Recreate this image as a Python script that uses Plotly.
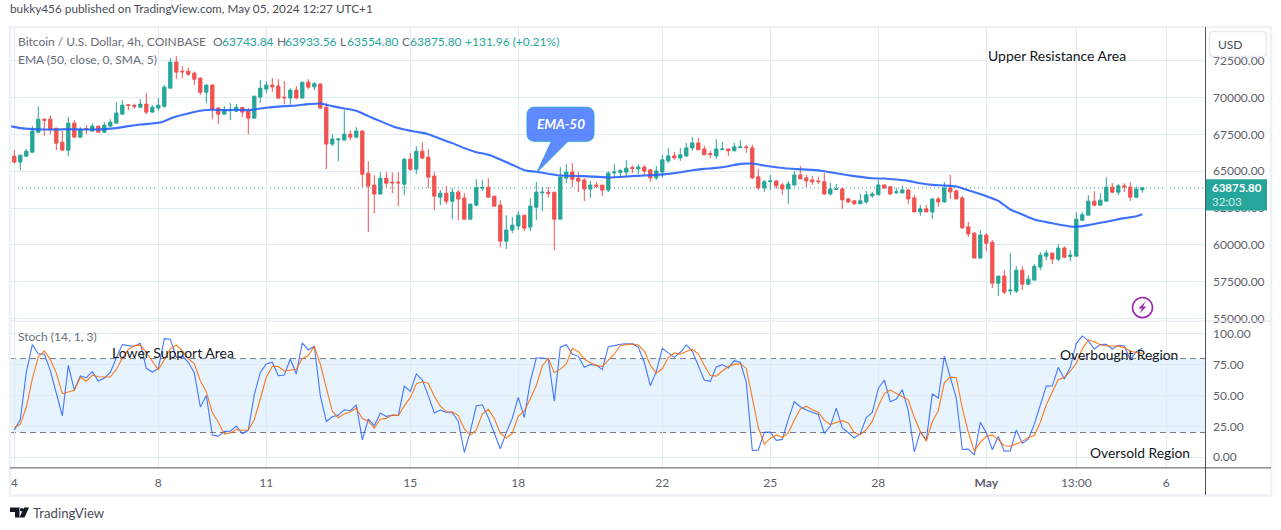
import plotly.graph_objects as go

candle_index = list(range(189))
opens = [66020,65620,66020,66290,67650,68530,68530,67920,66970,66430,
68260,67310,67900,67720,68060,67650,68060,68260,68870,69500,
69460,69340,69550,69010,69280,69410,70630,72400,71780,71780,
71650,71310,70360,70840,69280,68870,69100,69070,69320,69070,
68600,70020,70570,70840,70770,70020,69960,70500,69960,71040,
70720,70900,69340,66840,67130,67110,67510,67310,67720,64870,
64060,63450,64530,64260,64260,64120,65820,65140,66360,65950,
64670,63240,63510,62970,63580,63180,61750,62700,63850,63920,
63310,62700,60260,61010,61280,62020,61210,62560,63540,63580,
63580,61750,64530,64940,64530,64400,63790,64060,64060,63720,
64890,64920,64940,65250,65160,65280,65090,64550,64950,65700,
66040,65900,66040,66580,66920,66510,66200,66040,66470,66510,
66380,66600,66650,66580,64620,63870,64300,64340,64070,63800,
64070,64750,64550,64410,64340,64280,63460,63760,63800,63120,
62990,62790,62920,63330,63400,64070,63940,63550,63530,63730,
63190,62240,62450,62240,63120,62920,63870,63670,63190,61230,
60800,59110,60670,60190,57410,57890,56890,56870,58290,57340,
57620,58500,59240,59450,59040,59790,59220,59240,61680,62020,
62970,62700,62970,63920,63580,64010,63920,63240,63743.84]
highs = [66430,66090,66500,68060,69410,68580,68800,67920,67720,68670,
68460,67990,68120,68240,68060,68330,68530,69680,69820,69550,
69590,69890,70290,69480,69960,70840,72670,72800,72120,71990,
71760,71380,70900,70900,69340,69410,69620,69550,69370,69280,
70090,71180,71110,71310,71240,71110,70630,70770,71040,71240,
71040,70970,69620,67510,67220,69140,67790,67990,67790,65680,
64730,64940,64940,64920,64940,65890,66230,66700,66970,66500,
64940,63720,63990,63850,63720,63510,62770,64460,64400,64530,
63310,63040,62020,61890,62290,62020,63180,64260,63920,63920,
63580,65280,65480,65550,64940,64530,64330,64260,64060,65010,
65480,65120,65750,65390,65480,65410,65160,65360,66110,66580,
66310,66580,66920,67330,67260,66720,66380,67190,66990,66510,
66920,67120,66790,66790,65160,64410,64750,64410,64210,64340,
65020,65360,64750,64680,64620,64890,64210,64140,63870,63190,
63060,63460,63670,63600,64410,64070,64010,63870,64010,63800,
63400,62720,62720,63190,63260,64280,64750,63730,63330,61560,
60870,61010,60800,60330,57890,58290,59450,58560,58560,57950,
58700,59510,59650,59450,60060,59920,59650,62230,62230,63380,
63650,63510,64600,64190,64120,64190,64260,63990,63933.56]
lows = [65530,65070,66020,66290,67560,67400,67510,66430,66430,66020,
67310,67310,67510,67720,67650,67580,67990,68260,68870,69140,
69230,69280,68870,68960,69100,69280,70630,71240,71310,71450,
70840,70160,69620,68530,68190,68870,68460,69010,68670,67510,
68600,69620,70290,70360,69890,69550,69550,69890,69960,70570,
70500,69210,65140,66700,65680,67110,67110,67240,63920,60870,
62160,63450,63920,63510,62630,63380,65010,64800,65820,63850,
62360,62700,62770,61750,61680,61750,61750,62630,63650,63240,
62630,59850,59720,60800,61010,60940,60940,61680,62290,63240,
59650,61750,64190,63920,63580,62970,63180,63850,63310,63580,
64600,64600,64670,64870,64800,64710,64280,64410,64550,65570,
65770,65700,65970,66380,66450,66110,65900,65840,66450,66040,
66380,66580,66240,64480,63730,63600,63730,63800,63400,62790,
64010,64480,63940,64070,64140,63400,63330,63730,62450,62850,
62720,62790,62790,63190,63400,63800,63400,63460,63530,62790,
62240,61970,62240,61770,62580,62850,63120,63120,61090,60550,
59110,59110,59580,57070,56530,56670,56600,56730,56940,57280,
57620,58290,58970,58700,58900,59110,58900,59240,61620,62020,
62630,62700,62970,63510,63380,63580,62970,63180,63554.80]
closes = [65620,66090,66360,67720,68530,68460,67850,66900,66430,68260,
67310,67850,67850,68060,67650,68120,68330,68940,69480,69460,
69410,69550,69010,69340,69480,70700,72400,71720,71740,71580,
71240,70360,70840,69210,68870,69140,69140,69340,69010,68600,
70090,70630,70840,70720,69960,69980,70500,69960,71040,70700,
70930,69280,66840,67180,67180,67510,67310,67720,64800,63990,
63450,64530,64190,64210,64210,65820,65140,66360,65890,64600,
63310,63510,62970,63580,63110,61750,62770,63880,63900,63240,
62630,60260,61010,61340,62020,61140,62630,63580,63580,63510,
61750,64600,64940,64460,64330,63790,64060,63990,63720,64870,
64940,65030,65210,65190,65280,65010,64550,65020,65770,66040,
65900,66110,66580,66920,66450,66110,66150,66510,66510,66380,
66650,66650,66600,64550,63870,64280,64340,64010,63800,64140,
64750,64480,64340,64280,64300,63460,63800,63800,63060,62920,
62790,62990,63400,63460,64070,63870,63460,63600,63730,63120,
62240,62450,62240,63120,62920,63870,63600,63120,61160,60750,
59110,60670,60120,57410,57890,56800,56940,58290,57340,57680,
58560,59310,59450,59040,59790,59170,59310,61750,62050,62970,
62700,63040,63920,63580,64010,63940,63240,63790,63875.80]

ema_index = [-0.7,1,3,5,7,9,11,13,15,17,19,21,23,24,25,26,27,29,31,33,35,37,39,41,43,45,47,49,51,52,
53,55,57,59,61,63,65,67,69,71,73,75,77,79,81,83,85,87,89,91,95,99,103,105,
107,109,111,113,115,117,119,121,123,125,127,129,131,133,135,137,139,141,143,145,147,149,151,153,155,157,158,159,
162,164,166,168,170,172,174,176,177,179,181,183,185,187,188]
ema_values = [68056,67921,67853,67830,67830,67853,67830,67830,67853,67921,68056,68169,68237,68282,68395,68576,68712,68915,69096,69164,69141,69164,69141,69254,69344,69412,69457,69548,69593,69503,
69412,69254,69096,68734,68395,68056,67830,67672,67514,67197,66904,66565,66293,66113,65796,65435,65073,64960,64824,64711,64666,64576,64666,64711,
64751,64819,64932,65067,65158,65226,65339,65497,65519,65384,65271,65180,65135,65090,65000,64864,64728,64615,64525,64502,64435,64344,64186,64073,64028,63960,63847,63711,
63310,62994,62406,62067,61728,61547,61389,61254,61231,61344,61502,61660,61819,61954,62090]

stoch_k = [22.0,30.6,68.8,91.3,83.7,83.7,70.2,50.7,33.6,74.5,
54.5,65.9,64.5,69.4,61.8,64.2,68.8,80.5,91.3,90.5,
90.0,92.4,72.1,69.1,71.8,96.2,95.7,81.0,82.1,77.0,
68.3,40.7,49.9,17.9,17.1,20.9,21.1,25.2,19.0,22.0,
50.7,68.8,75.6,77.0,66.1,66.7,79.7,67.5,92.7,87.0,
90.0,49.9,29.0,32.8,34.1,38.5,37.7,42.5,14.1,30.9,
25.5,35.8,33.1,33.9,33.9,57.5,53.4,67.5,62.6,49.9,
35.8,38.2,36.3,36.0,29.0,3.8,20.9,41.7,42.5,32.2,
19.5,6.8,20.1,31.7,48.5,32.2,61.5,80.5,80.5,79.7,
45.5,89.2,91.3,83.7,81.8,72.9,75.1,74.8,71.0,89.7,
90.5,91.6,91.9,91.9,89.2,77.0,58.0,69.4,88.3,84.6,
81.0,85.1,91.1,85.9,74.8,62.6,61.5,73.2,75.1,72.4,
78.3,77.0,60.7,5.4,5.7,20.1,20.3,13.6,14.4,30.9,
45.0,40.9,38.2,36.3,34.7,19.2,25.2,39.8,23.8,19.8,
15.7,19.0,32.2,36.3,55.8,62.6,45.0,47.2,54.7,37.7,
4.3,20.6,13.8,51.2,48.0,81.8,64.8,48.0,6.2,6.5,
1.9,28.2,20.1,6.0,16.8,4.9,5.1,22.0,11.4,14.6,
26.8,43.1,57.7,57.7,72.9,63.4,72.9,92.4,98.4,94.6,
87.8,91.3,91.6,87.8,90.8,90.2,78.9,85.6,88.3]
stoch_d = [24.0,26.8,40.5,63.6,81.3,86.2,79.2,68.2,51.5,52.9,
54.2,64.9,61.6,66.6,65.2,65.1,65.0,71.2,80.2,87.4,
90.6,90.9,84.9,77.8,71.0,79.0,87.9,91.0,86.3,80.0,
75.8,62.0,53.0,36.2,28.3,18.6,19.7,22.4,21.8,22.1,
30.6,47.2,65.0,73.8,73.6,69.9,70.9,71.3,80.0,82.4,
89.9,75.6,56.3,37.2,32.0,35.1,36.8,39.6,31.4,29.2,
23.5,30.8,31.5,34.3,33.6,41.8,48.3,59.5,61.2,60.0,
49.4,41.3,36.8,36.8,33.8,22.9,17.9,22.1,35.0,38.8,
31.4,19.5,15.5,19.5,33.4,37.5,47.4,58.1,74.2,80.2,
68.6,71.4,75.7,88.1,85.6,79.5,76.6,74.3,73.6,78.5,
83.7,90.6,91.3,91.8,91.0,86.0,74.7,68.1,71.9,80.8,
84.6,83.6,85.7,87.4,83.9,74.4,66.3,65.8,69.9,73.6,
75.3,75.9,72.0,47.7,24.0,10.4,15.4,18.0,16.1,19.6,
30.1,39.0,41.4,38.5,36.4,30.1,26.4,28.1,29.6,27.8,
19.8,18.2,22.3,29.2,41.4,51.6,54.6,51.6,48.9,46.5,
32.2,20.9,12.9,28.7,37.6,60.3,64.9,64.5,39.7,20.2,
4.9,12.2,16.7,18.1,14.3,9.2,8.8,10.7,12.8,16.0,
17.6,28.2,42.5,52.8,63.0,64.7,69.7,76.2,87.9,95.2,
93.6,91.2,90.2,90.2,90.1,88.9,86.0,84.9,84.2]

for series in (opens, highs, lows, closes, stoch_k, stoch_d):
    assert len(series) == 189, len(series)
assert len(ema_index) == len(ema_values)

tick_positions = [0, 24, 42, 66, 84, 108, 126, 144, 162, 177, 192]
tick_labels = ["4", "8", "11", "15", "18", "22", "25", "28", "<b>May</b>", "13:00", "6"]
price_ticks = [55000, 57500, 60000, 62500, 65000, 67500, 70000, 72500]
stoch_ticks = [0, 25, 50, 75, 100]
last_price = 63875.80

W, H = 1281, 530
FIG_H = 536
UP, DOWN = "#26a69a", "#ef5350"
GRID = "#e1ecf2"
AXIS = "#50535e"
LABEL = "#5d606b"
FONT = "Lato"

def fx(px): return px / W
def fy(py): return 1 - py / H
def path(points, close=True):
    s = "M " + " L ".join(f"{fx(x):.5f},{fy(y):.5f}" for x, y in points)
    return s + (" Z" if close else "")

fig = go.Figure()
fig.add_trace(go.Candlestick(x=candle_index, open=opens, high=highs, low=lows, close=closes,
    increasing=dict(line=dict(color=UP, width=1), fillcolor=UP),
    decreasing=dict(line=dict(color=DOWN, width=1), fillcolor=DOWN),
    whiskerwidth=0, yaxis="y", xaxis="x", showlegend=False, hoverinfo="skip"))
fig.add_trace(go.Scatter(x=ema_index, y=ema_values, mode="lines", yaxis="y", xaxis="x",
    line=dict(color="#2962ff", width=2.1, shape="spline", smoothing=0.6), showlegend=False, hoverinfo="skip", opacity=0.9))
fig.add_trace(go.Scatter(x=candle_index, y=stoch_k, mode="lines", yaxis="y2", xaxis="x",
    line=dict(color="#2962ff", width=1.1), showlegend=False, hoverinfo="skip", opacity=0.85))
fig.add_trace(go.Scatter(x=candle_index, y=stoch_d, mode="lines", yaxis="y2", xaxis="x",
    line=dict(color="#ff6d00", width=1.1), showlegend=False, hoverinfo="skip", opacity=0.9))

shapes = []
shapes.append(dict(type="rect", xref="x domain", yref="y2", x0=0, x1=1, y0=20, y1=80,
                   fillcolor="rgba(33,150,243,0.11)", line_width=0, layer="below"))
for lvl, col in ((80, "#787b86"), (50, "#9a9da6"), (20, "#787b86")):
    shapes.append(dict(type="line", xref="x domain", yref="y2", x0=0, x1=1, y0=lvl, y1=lvl,
                       line=dict(color=col, width=1, dash="6px,4px"), layer="below"))
shapes.append(dict(type="line", xref="x domain", yref="y", x0=0, x1=1, y0=last_price, y1=last_price,
                   line=dict(color=UP, width=1, dash="1px,3px"), layer="below"))
shapes.append(dict(type="rect", xref="paper", yref="paper", x0=fx(10), x1=fx(1271), y0=fy(494.5), y1=fy(27),
                   line=dict(color="#eff1f7", width=2.5)))
shapes.append(dict(type="line", xref="paper", yref="paper", x0=fx(10), x1=fx(1271), y0=fy(320.5), y1=fy(320.5),
                   line=dict(color="#e0e3eb", width=1)))
shapes.append(dict(type="line", xref="paper", yref="paper", x0=fx(1205.5), x1=fx(1205.5), y0=fy(494), y1=fy(27),
                   line=dict(color=AXIS, width=1)))
shapes.append(dict(type="line", xref="paper", yref="paper", x0=fx(10), x1=fx(1271), y0=fy(467), y1=fy(467),
                   line=dict(color=AXIS, width=1)))
def rrect(x0, y0, x1, y1, r):
    return (f"M {fx(x0+r):.5f},{fy(y0):.5f} L {fx(x1-r):.5f},{fy(y0):.5f} "
            f"Q {fx(x1):.5f},{fy(y0):.5f} {fx(x1):.5f},{fy(y0+r):.5f} L {fx(x1):.5f},{fy(y1-r):.5f} "
            f"Q {fx(x1):.5f},{fy(y1):.5f} {fx(x1-r):.5f},{fy(y1):.5f} L {fx(x0+r):.5f},{fy(y1):.5f} "
            f"Q {fx(x0):.5f},{fy(y1):.5f} {fx(x0):.5f},{fy(y1-r):.5f} L {fx(x0):.5f},{fy(y0+r):.5f} "
            f"Q {fx(x0):.5f},{fy(y0):.5f} {fx(x0+r):.5f},{fy(y0):.5f} Z")
shapes.append(dict(type="path", xref="paper", yref="paper", path=rrect(1209.5, 31.5, 1266.5, 56.5, 4),
                   fillcolor="white", line=dict(color="#e8eaf1", width=1.5)))
shapes.append(dict(type="rect", xref="paper", yref="paper", x0=fx(1206), x1=fx(1267), y0=fy(210), y1=fy(179),
                   fillcolor=UP, line_width=0))
bx0, by0, bx1, by1, r = 527, 107, 594, 141, 8
callout = (f"M {fx(bx0+r):.5f},{fy(by0):.5f} L {fx(bx1-r):.5f},{fy(by0):.5f} "
           f"Q {fx(bx1):.5f},{fy(by0):.5f} {fx(bx1):.5f},{fy(by0+r):.5f} L {fx(bx1):.5f},{fy(by1-r):.5f} "
           f"Q {fx(bx1):.5f},{fy(by1):.5f} {fx(bx1-r):.5f},{fy(by1):.5f} L {fx(568):.5f},{fy(by1):.5f} "
           f"L {fx(537):.5f},{fy(172):.5f} L {fx(551.5):.5f},{fy(by1):.5f} "
           f"L {fx(bx0+r):.5f},{fy(by1):.5f} Q {fx(bx0):.5f},{fy(by1):.5f} {fx(bx0):.5f},{fy(by1-r):.5f} "
           f"L {fx(bx0):.5f},{fy(by0+r):.5f} Q {fx(bx0):.5f},{fy(by0):.5f} {fx(bx0+r):.5f},{fy(by0):.5f} Z")
shapes.append(dict(type="path", xref="paper", yref="paper", path=callout,
                   fillcolor="rgba(41,98,255,0.75)", line=dict(color="#2f9fd6", width=1)))
shapes.append(dict(type="circle", xref="paper", yref="paper", x0=fx(1132.5), x1=fx(1152.5), y0=fy(317), y1=fy(297),
                   fillcolor="white", line=dict(color="#9c27b0", width=1.6)))
shapes.append(dict(type="path", xref="paper", yref="paper",
                   path=path([(1145.5, 301), (1138.5, 308), (1142, 308), (1139.5, 313), (1146.5, 306), (1143, 306)]),
                   fillcolor="#9c27b0", line_width=0))
shapes.append(dict(type="path", xref="paper", yref="paper",
                   path=path([(10, 506.5), (19.5, 506.5), (19.5, 516.5), (15, 516.5), (15, 511), (10, 511)]),
                   fillcolor="#131722", line_width=0))
shapes.append(dict(type="circle", xref="paper", yref="paper", x0=fx(20), x1=fx(23.4), y0=fy(510.5), y1=fy(507),
                   fillcolor="#131722", line_width=0))
shapes.append(dict(type="path", xref="paper", yref="paper",
                   path=path([(24, 506.5), (29, 506.5), (24.5, 516.5), (19.5, 516.5)]),
                   fillcolor="#131722", line_width=0))

def note(text, x, y, size=12, color="#6a6d78", anchor="left"):
    shift = -2 if anchor == "left" else 0
    return dict(text=text, xref="paper", yref="paper", x=fx(x + shift), y=fy(y), xanchor=anchor, yanchor="middle",
                showarrow=False, font=dict(family=FONT, size=size, color=color))

annotations = [
    note("bukky456 published on TradingView.com, May 05, 2024 12:27 UTC+1", 10, 8, 11.8, "#4a4d57"),
    note("Bitcoin / U.S. Dollar, 4h, COINBASE", 18, 41),
    note("O", 213, 41), note("63743.84", 221.5, 41, 12, UP),
    note("H", 277, 41), note("63933.56", 285, 41, 12, UP),
    note("L", 340, 41), note("63554.80", 347, 41, 12, UP),
    note("C", 402, 41), note("63875.80", 410, 41, 12, UP),
    note("+131.96 (+0.21%)", 465, 41, 12, UP),
    note("EMA (50, close, 0, SMA, 5)", 18, 59),
    note("Stoch (14, 1, 3)", 18, 336),
    note("Upper Resistance Area", 988, 55, 14, "#131722"),
    note("Lower Support Area", 112, 352, 14, "#131722"),
    note("Overbought Region", 1060, 354, 13.8, "#131722"),
    note("Oversold Region", 1090, 452, 13.8, "#131722"),
    note("<b><i>EMA-50</i></b>", 560.5, 124, 13.5, "white", anchor="center"),
    note("USD", 1218, 44, 12, "#4a4d57"),
    note("<b>63875.80</b>", 1212, 187, 11.5, "white"),
    note("32:03", 1212, 201.5, 11.5, "#d4eeeb"),
    note("TradingView", 33, 512, 13.2, "#4a4d57"),
]

fig.update_layout(
    width=W, height=FIG_H, margin=dict(l=0, r=0, t=0, b=0),
    paper_bgcolor="white", plot_bgcolor="white", showlegend=False,
    font=dict(family=FONT, size=12, color=LABEL),
    boxgap=0.22, dragmode=False, shapes=shapes, annotations=annotations,
    xaxis=dict(domain=[fx(10), fx(1205)], range=[-0.72, 198.45], anchor="y2",
               tickmode="array", tickvals=tick_positions, ticktext=tick_labels,
               showgrid=True, gridcolor=GRID, gridwidth=1, zeroline=False, showline=False, ticks="",
               ticklabelstandoff=6, tickfont=dict(family=FONT, size=12, color=LABEL),
               rangeslider=dict(visible=False), fixedrange=True, tickangle=0),
    yaxis=dict(domain=[fy(320), fy(27)], range=[54872, 74775], side="right", anchor="x",
               tickmode="array", tickvals=price_ticks, tickformat=".2f",
               showgrid=True, gridcolor=GRID, gridwidth=1, zeroline=False, showline=False, ticks="",
               ticklabelstandoff=7, tickfont=dict(family=FONT, size=12, color=LABEL), fixedrange=True),
    yaxis2=dict(domain=[fy(467), fy(321)], range=[-8.7, 110], side="right", anchor="x",
                tickmode="array", tickvals=stoch_ticks, tickformat=".2f",
                showgrid=True, gridcolor=GRID, gridwidth=1, zeroline=False, showline=False, ticks="",
                ticklabelstandoff=7, tickfont=dict(family=FONT, size=12, color=LABEL), fixedrange=True),
)

fig.write_html("out.html", config=dict(displayModeBar=False),
               post_script="document.body.style.margin='0';document.body.style.overflow='hidden';")
